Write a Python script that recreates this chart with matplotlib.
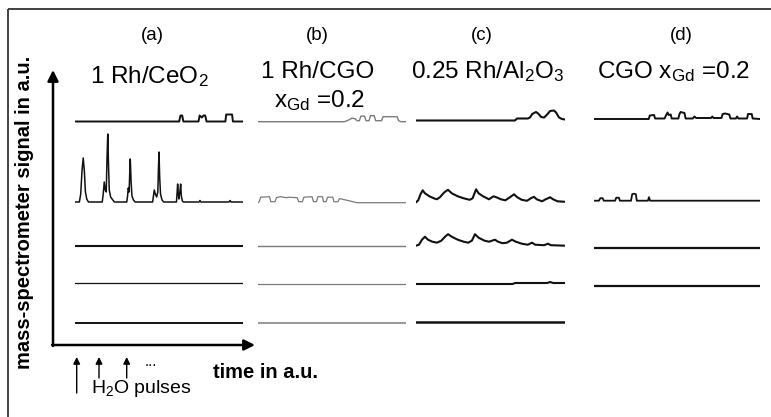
"""
Mass-spectrometer response to H2O pulses for four catalysts, stacked traces.
"""
import matplotlib
matplotlib.use("Agg")
import matplotlib.pyplot as plt

plt.rcParams["font.family"] = ["Liberation Sans", "DejaVu Sans"]
plt.rcParams["mathtext.default"] = "regular"

W, H = 771, 417

# traces: (time in % of run, signal in a.u. above the trace baseline)
FLAT = [(0, 0), (100, 0)]

A1 = [(0, 0), (62, 0), (62.8, 6), (63.8, 6), (64.5, 0), (73.5, 0), (74.2, 6), (75.5, 4),
      (76.5, 6), (77.5, 6), (78.3, 0), (89.5, 0), (90, 7), (93.5, 7), (94, 0), (100, 0)]
A2 = [(0, 0), (2.6, 0), (3.4, 8), (4.2, 32), (4.9, 44), (5.6, 30), (6.2, 10), (7.0, 3), (8.0, 0),
      (16.2, 0), (16.8, 8), (17.4, 20), (18.0, 12), (18.6, 10), (19.0, 40), (19.5, 68), (19.9, 40),
      (20.4, 12), (21.2, 5), (22.5, 2), (23.5, 0),
      (30.8, 0), (31.3, 6), (31.7, 14), (32.2, 10), (32.5, 25), (32.9, 43), (33.4, 20), (33.9, 6),
      (34.8, 2), (35.8, 0),
      (46.2, 0), (46.7, 6), (47.2, 12), (47.8, 8), (48.6, 5), (49.3, 10), (49.7, 35), (50.0, 50),
      (50.4, 25), (50.9, 8), (51.8, 2), (52.8, 0),
      (60.4, 0), (60.8, 10), (61.1, 18), (61.5, 8), (61.9, 3), (62.4, 10), (62.9, 18), (63.3, 6),
      (63.9, 1), (64.6, 0),
      (73.8, 0), (74.4, 1.5), (75.0, 0), (91.7, 0), (92.3, 1.5), (92.9, 0), (100, 0)]

B1 = [(0, 0), (58.5, 0), (61, 1.5), (63.5, 3.5), (65.5, 3), (67, 1), (68.5, 1), (69.5, 5.5),
      (72, 5.5), (73, 1), (75, 1), (76, 6), (78.5, 6), (79.5, 1), (83.5, 1), (84.5, 5), (94, 5),
      (95, 1), (96.5, 0), (100, 0)]
B2 = [(0, 0), (0.8, 1), (1.8, 5.5), (7.8, 6), (8.6, 1), (11.5, 1), (12.5, 5), (15, 6), (19, 5),
      (21, 5.5), (26.5, 5), (27.5, 1), (30, 1), (31, 5.5), (36.5, 6), (37.5, 1), (39.5, 1),
      (40.5, 6), (43.5, 6), (44.3, 1), (46, 1), (47, 5.5), (50.5, 5.5), (51.3, 1), (54, 1),
      (55, 4), (57, 3.5), (67, 0), (100, 0)]

C1 = [(0, 0), (66.4, 0), (67.8, 2), (75, 2), (76.5, 3), (78, 6.5), (80.5, 8.5), (82, 7), (84, 3.5),
      (86, 3), (88, 6), (90, 9.5), (92.6, 10), (94, 8), (96, 3), (98, 1.5), (100, 1)]
C2 = [(0, 0), (1.5, 2), (3, 8), (4.5, 12), (6, 9), (9, 6), (12, 4), (14, 3), (16, 5), (19, 10),
      (21.5, 12.5), (24, 9), (28, 6), (32, 4), (36, 2.5), (38, 4), (40.3, 13), (42, 9), (45, 6),
      (49, 3), (52, 6), (54, 5), (57, 3), (60, 2), (63, 5), (65.8, 8), (68, 5), (71, 2.5),
      (74.5, 1.5), (77, 4), (79.2, 5.5), (81, 3), (84.6, 1), (87, 3), (90, 5), (92, 3), (95, 1),
      (100, 0.5)]
C3 = [(0, 0), (2, 1), (4, 6), (6, 9), (8, 6), (11, 4), (14, 3), (17, 5), (19.5, 9), (21.5, 11.5),
      (24, 9), (28, 6), (32, 4), (35, 3), (37.5, 5), (39.6, 11.5), (42, 8), (46, 5), (49, 4),
      (51, 5), (53, 6), (55, 4), (58, 2.5), (61, 3), (64.4, 6), (67, 4), (71, 2), (75, 1),
      (77.9, 3), (80, 1), (86, 0.5), (88.6, 2), (90.5, 0.5), (100, 0)]
C4 = [(0, 0), (64.8, 0), (66.5, 1), (88, 1), (90, 2), (92, 1), (100, 1)]

D1 = [(0, 0), (33, 0), (33.6, 3.5), (36.2, 4), (36.8, 0.5), (42.5, 0.5), (43.2, 3), (44.3, 6.5),
      (45, 4), (46.2, 4.5), (46.8, 0.5), (50.8, 0.5), (51.5, 5), (52.2, 7), (54.5, 6), (55.2, 0.5),
      (59.5, 0.5), (60.5, 2.5), (61.5, 1), (70.5, 1), (71.3, 2.5), (72, 1), (76.8, 1), (77.5, 5),
      (79, 5.5), (81.5, 4.5), (82.2, 0.5), (85.5, 0.5), (86.2, 2.5), (87, 0.5), (92.2, 0.5),
      (92.8, 5), (95, 5), (95.6, 0.5), (100, 0)]
D2 = [(0, 0), (3, 0), (3.8, 2.5), (5.2, 2.5), (5.9, 0), (12.7, 0), (13.4, 3), (15, 3), (15.6, 0),
      (22.3, 0), (23, 6.5), (24, 7), (25.2, 6.5), (25.8, 0), (32.5, 0), (33.1, 3.5), (33.8, 0),
      (100, 0)]

PANEL_TRACES = [
    [A1, A2, FLAT, FLAT, FLAT],
    [B1, B2, FLAT, FLAT, FLAT],
    [C1, C2, C3, C4, FLAT],
    [D1, D2, FLAT, FLAT],
]
# baseline of each trace, a.u.
PANEL_OFFSETS = [
    [213.5, 133, 89.3, 51.7, 12.3],
    [213.3, 132.3, 89.3, 51, 12.3],
    [214.5, 132.7, 89.3, 51, 13],
    [216, 134.3, 87.3, 49.3],
]
PANEL_LW = [
    [1.4, 1.1, 1.5, 0.9, 1.4],
    [1.0, 0.9, 1.0, 0.9, 1.1],
    [1.5, 1.5, 1.5, 1.5, 1.8],
    [1.4, 1.3, 1.6, 1.6],
]
PANEL_COLORS = ["#111111", "#7a7a7a", "#111111", "#111111"]
PANEL_LETTERS = ["(a)", "(b)", "(c)", "(d)"]

# panel placement in pixels (left, right), traces share a common vertical window
PANEL_X = [(75, 243), (258, 406), (416, 565), (594, 760)]
Y_TOP, Y_BOT = 60, 335

fig = plt.figure(figsize=(W / 100, H / 100), dpi=100)

for traces, offs, lws, col, (x0, x1) in zip(PANEL_TRACES, PANEL_OFFSETS, PANEL_LW,
                                             PANEL_COLORS, PANEL_X):
    ax = fig.add_axes([x0 / W, 1 - Y_BOT / H, (x1 - x0) / W, (Y_BOT - Y_TOP) / H])
    for tr, off, lw in zip(traces, offs, lws):
        t = [p[0] for p in tr]
        v = [p[1] + off for p in tr]
        ax.plot(t, v, color=col, lw=lw, solid_joinstyle="round")
    ax.set_xlim(0, 100)
    ax.set_ylim(0, Y_BOT - Y_TOP)
    ax.axis("off")

# decoration layer in pixel units
deco = fig.add_axes([0, 0, 1, 1], zorder=-1)
deco.set_xlim(0, W)
deco.set_ylim(H, 0)
deco.axis("off")

frame_kw = dict(color="#333333", lw=1.3, solid_capstyle="butt")
deco.plot([7.5, W], [9.3, 9.3], **frame_kw)
deco.plot([7.5, 7.5], [9.3, H], **frame_kw)

axis_kw = dict(arrowstyle="-|>", lw=1.8, color="black", mutation_scale=16, shrinkA=0, shrinkB=0)
deco.annotate("", xy=(53, 70), xytext=(53, 346), arrowprops=axis_kw)
deco.annotate("", xy=(255, 345), xytext=(52.1, 345), arrowprops=axis_kw)

pulse_kw = dict(arrowstyle="-|>", lw=1.0, color="black", mutation_scale=10, shrinkA=0, shrinkB=0)
for px, y0 in [(76.7, 393), (99, 378), (126.7, 378)]:
    deco.annotate("", xy=(px, 357), xytext=(px, y0), arrowprops=pulse_kw)
deco.text(151, 366, "...", fontsize=11, ha="center", va="baseline")
deco.text(91, 393, "H$_2$O pulses", fontsize=14, ha="left", va="baseline")

deco.text(213, 378, "time in a.u.", fontsize=14.5, fontweight="bold", ha="left", va="baseline")
deco.text(25, 212, "mass-spectrometer signal in a.u.", fontsize=14.5, fontweight="bold",
          rotation=90, ha="center", va="center")

for letter, cx in zip(PANEL_LETTERS, [152, 317, 482, 681]):
    deco.text(cx, 35, letter, fontsize=13.5, ha="center", va="center")

title_fs = 17.5
deco.text(149, 83.3, "1 Rh/CeO$_2$", fontsize=title_fs, ha="center", va="baseline")
deco.text(318, 78.3, "1 Rh/CGO", fontsize=title_fs, ha="center", va="baseline")
deco.text(320, 107, "x$_{Gd}$ =0.2", fontsize=title_fs, ha="center", va="baseline")
deco.text(488, 78.3, "0.25 Rh/Al$_2$O$_3$", fontsize=title_fs, ha="center", va="baseline")
deco.text(673, 78.3, "CGO x$_{Gd}$ =0.2", fontsize=title_fs, ha="center", va="baseline")

fig.savefig("out.png", dpi=100)
